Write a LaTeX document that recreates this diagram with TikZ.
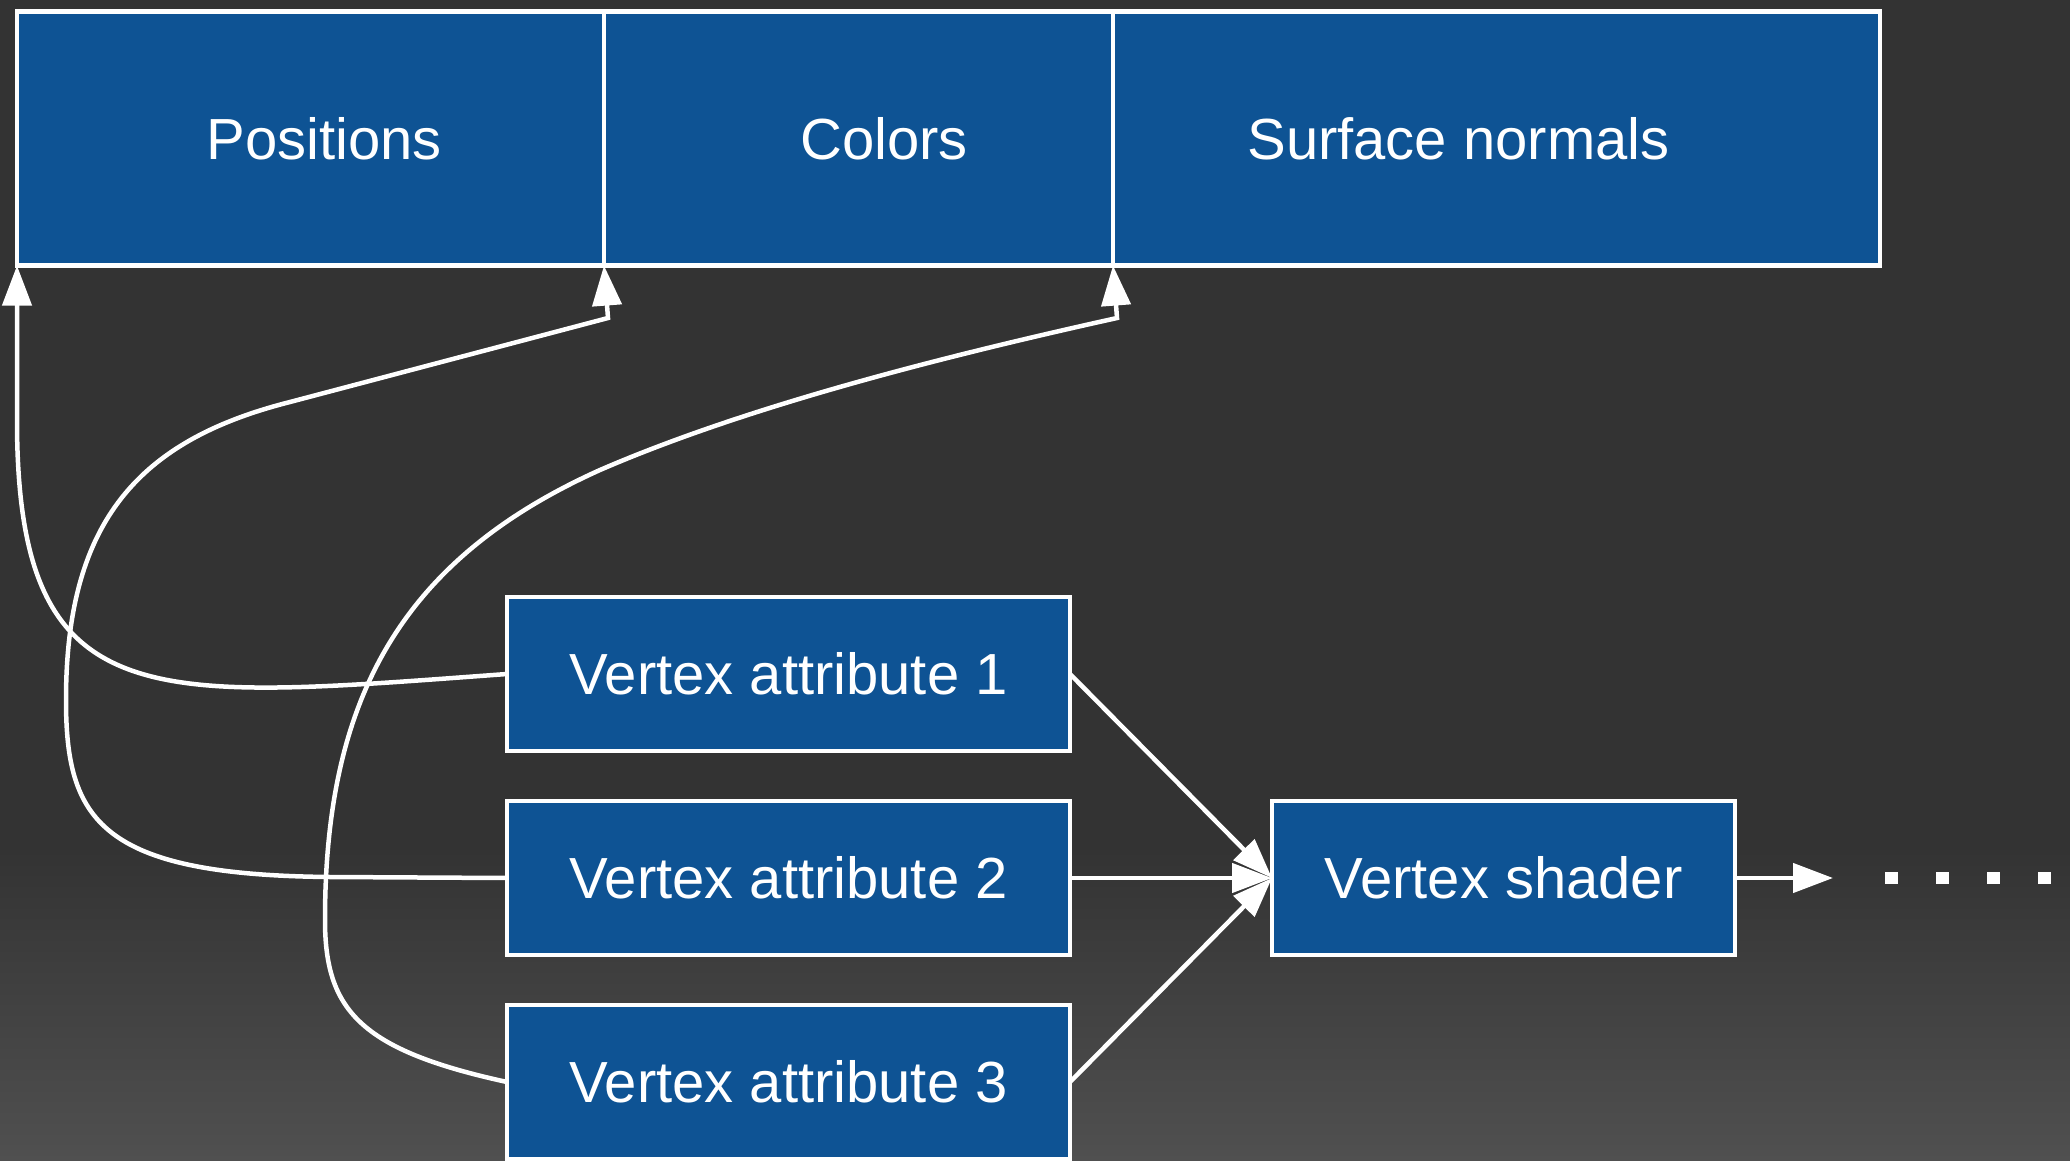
\documentclass[tikz,border=0pt]{standalone}
\usepackage{fontspec}
\setmainfont{Liberation Sans}
\usetikzlibrary{positioning,arrows.meta}

\definecolor{bgdark}{HTML}{333333}
\definecolor{bglight}{HTML}{505050}
\definecolor{boxblue}{HTML}{0E5394}

\tikzset{
  field/.style={draw=white, fill=boxblue, line width=4.5pt, outer sep=0pt,
    inner sep=0pt, minimum height=254pt},
  attr/.style={draw=white, fill=boxblue, line width=4.5pt, outer sep=0pt,
    minimum width=563pt, minimum height=154pt, text=white,
    font=\fontsize{58}{70}\selectfont},
  lbl/.style={text=white, font=\fontsize{58}{70}\selectfont},
  wire/.style={draw=white, line width=4.5pt},
  arr/.style={wire, -{Triangle[length=40pt, width=29pt]}},
}

\begin{document}
\begin{tikzpicture}[x=1pt, y=-1pt]

  % Background
  \useasboundingbox (0,0) rectangle (2070,1161);
  \fill[bgdark] (0,0) rectangle (2070,850);
  \shade[top color=bgdark, bottom color=bglight] (0,849) rectangle (2070,1161);

  % Vertex buffer fields
  \node[field, minimum width=587pt,
    label={[lbl, xshift=13.5pt]center:Positions}] (pos) at (310.5,138.6) {}; %
  \node[field, minimum width=509pt, right=0pt of pos,
    label={[lbl, xshift=25.5pt]center:Colors}] (col) {}; %
  \node[field, minimum width=767pt, right=0pt of col,
    label={[lbl, xshift=-38pt]center:Surface normals}] (nrm) {}; %

  % Vertex attributes
  \node[attr] (va1) at (788.5,674) {Vertex attribute 1}; %
  \node[attr, below=50pt of va1] (va2) {Vertex attribute 2}; %
  \node[attr, below=50pt of va2] (va3) {Vertex attribute 3}; %

  % Vertex shader and what follows
  \node[attr, minimum width=463pt, right=202pt of va2] (vs) {Vertex shader}; %
  \coordinate[right=98pt of vs] (out); %
  \coordinate[right=150pt of vs] (more-a); %
  \coordinate[right=317pt of vs] (more-b); %

  % Attributes into the shader
  \draw[arr] (va1.east) -- (vs.west); %
  \draw[arr] (va2.east) -- (vs.west); %
  \draw[arr] (va3.east) -- (vs.west); %
  \draw[arr] (vs.east) -- (out); %
  \draw[wire, line width=12pt, dash pattern=on 13pt off 38pt] (more-a) -- (more-b); %

  % Attributes back to their fields
  \draw[arr] (va1.west) .. controls (150,700) and (17,720) .. (17,420)
    -- (pos.south west); %
  \draw[arr] (va2.west) -- (330,877) .. controls (100,875) and (66,820) .. (66,700)
    .. controls (66,520) and (140,440) .. (290,402) -- (608,318)
    -- (col.south west); %
  \draw[arr] (va3.west) .. controls (360,1050) and (325,1010) .. (325,920)
    .. controls (325,700) and (400,560) .. (600,470)
    .. controls (750,405) and (950,355) .. (1117,318)
    -- (nrm.south west); %

\end{tikzpicture}
\end{document}
